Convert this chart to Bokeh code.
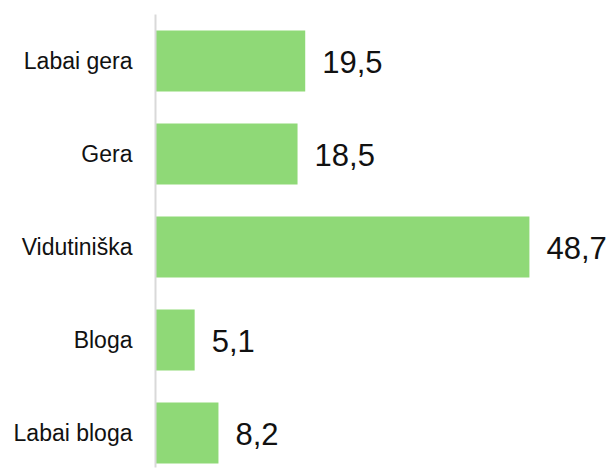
from bokeh.plotting import figure
from bokeh.models import ColumnDataSource, Range1d, FixedTicker
from bokeh.core.properties import value
from bokeh.embed import file_html
from bokeh.resources import INLINE

categories = ["Labai gera", "Gera", "Vidutiniška", "Bloga", "Labai bloga"]
values = [19.5, 18.5, 48.7, 5.1, 8.2]

n = len(categories)
ypos = [n - 1 - i for i in range(n)]
labels = [f"{v:.1f}".replace(".", ",") for v in values]

src = ColumnDataSource(dict(y=ypos, v=values, lab=labels, cat=categories))

p = figure(width=608, height=471, output_backend="svg", toolbar_location=None,
           x_range=Range1d(0, 59.0), y_range=Range1d(-0.371, n - 0.5),
           min_border_left=155, min_border_right=0, min_border_top=14, min_border_bottom=4)

p.hbar(y="y", right="v", left=0, height=0.656, source=src,
       fill_color="#8FD977", line_color=None)

p.text(x="v", y="y", text="lab", source=src, x_offset=17, y_offset=1,
       text_baseline="middle", text_align="left", text_font_size="31px",
       text_font=value("Liberation Sans"), text_color="#111111")

p.xaxis.visible = False
p.xgrid.visible = False
p.ygrid.visible = False
p.outline_line_color = None

ax = p.yaxis[0]
ax.ticker = FixedTicker(ticks=ypos)
ax.major_label_overrides = {y: c for y, c in zip(ypos, categories)}
ax.major_tick_out = 0
ax.major_tick_in = 0
ax.minor_tick_out = 0
ax.minor_tick_in = 0
ax.major_label_standoff = 23
ax.major_label_text_font = "Liberation Sans"
ax.major_label_text_font_size = "23px"
ax.major_label_text_color = "#111111"
ax.axis_line_color = "#D9D9D9"
ax.axis_line_width = 2

open("out.html", "w").write(file_html(p, INLINE))
